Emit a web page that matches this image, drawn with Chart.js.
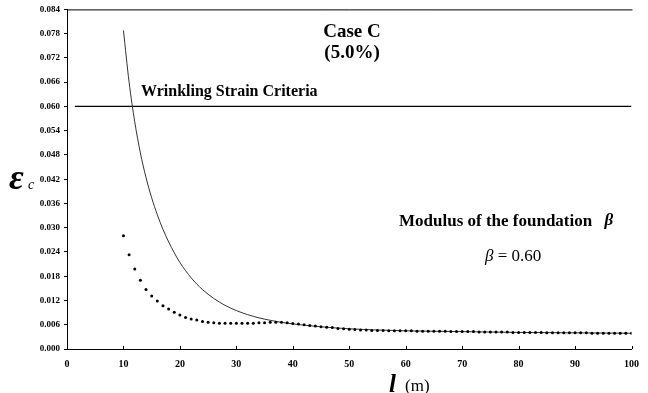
<!DOCTYPE html>
<html>
<head>
<meta charset="utf-8">
<script src="https://cdn.jsdelivr.net/npm/chart.js@4/dist/chart.umd.min.js"></script>
<style>
html,body{margin:0;padding:0;background:#fff;}
#wrap{width:648px;height:393px;position:relative;}
</style>
</head>
<body>
<div id="wrap"><canvas id="c" width="648" height="393"></canvas></div>
<script>
// ---- data ----
const dotX = [10,11,12,13,14,15,16,17,18,19,20,21,22,23,24,25,26,27,28,29,30,31,32,33,34,35,36,37,38,39,40,41,42,43,44,45,46,47,48,49,50,51,52,53,54,55,56,57,58,59,60,61,62,63,64,65,66,67,68,69,70,71,72,73,74,75,76,77,78,79,80,81,82,83,84,85,86,87,88,89,90,91,92,93,94,95,96,97,98,99,100];
const dotY = [0.0280,0.0233,0.0198,0.0170,0.0147,0.0131,0.0119,0.0107,0.0099,0.0091,0.0084,0.0078,0.0074,0.0072,0.0068,0.0066,0.0065,0.0064,0.0064,0.0064,0.0064,0.0064,0.0064,0.0064,0.0065,0.0065,0.0066,0.0066,0.0066,0.0065,0.0063,0.0062,0.0060,0.0058,0.0057,0.0055,0.0054,0.0053,0.0051,0.0050,0.0049,0.0048,0.0047,0.0047,0.0046,0.0046,0.0046,0.0045,0.0045,0.0045,0.0045,0.0045,0.0044,0.0044,0.0044,0.0044,0.0044,0.0044,0.0043,0.0043,0.0043,0.0043,0.0043,0.0042,0.0042,0.0042,0.0042,0.0042,0.0042,0.0041,0.0041,0.0041,0.0041,0.0041,0.0041,0.0040,0.0040,0.0040,0.0040,0.0040,0.0040,0.0040,0.0040,0.0039,0.0039,0.0039,0.0039,0.0039,0.0039,0.0039,0.0039];
const curveX = [10,11,12,13,14,15,16,17,18,19,20,22,24,26,28,30,32,34,36,38,40,45,50,55,60,70,80,90,100];
const curveY = [0.0788,0.0660,0.0562,0.0485,0.0424,0.0374,0.0332,0.0296,0.0265,0.0238,0.0214,0.0176,0.0147,0.0125,0.0108,0.0095,0.0085,0.0077,0.0071,0.0066,0.0062,0.0055,0.0050,0.0047,0.0045,0.0043,0.0041,0.0040,0.0039];
const criteriaX = [1.4,100];
const criteriaY = [0.060,0.060];
const xTicks = [0,10,20,30,40,50,60,70,80,90,100];
const yTicks = [0.000,0.006,0.012,0.018,0.024,0.030,0.036,0.042,0.048,0.054,0.060,0.066,0.072,0.078,0.084];

const SERIF = '"Liberation Serif","Times New Roman",serif';
const toPts = (xs, ys) => xs.map((x,i)=>({x:x,y:ys[i]}));

const deco = {
  id:'deco',
  afterDraw(chart){
    const ctx = chart.ctx, a = chart.chartArea, xs = chart.scales.x;
    ctx.save();
    ctx.strokeStyle = '#000'; ctx.lineWidth = 1;
    // top border
    ctx.beginPath(); ctx.moveTo(a.left, a.top+0.5); ctx.lineTo(a.right+1, a.top+0.5); ctx.stroke();
    // inside x ticks
    xTicks.forEach(v=>{
      const p = Math.round(xs.getPixelForValue(v))+0.5;
      ctx.beginPath(); ctx.moveTo(p, a.bottom); ctx.lineTo(p, a.bottom-3); ctx.stroke();
    });
    ctx.fillStyle = '#000';
    ctx.textBaseline = 'middle';
    // annotations
    ctx.textAlign = 'center';
    ctx.font = 'bold 19px ' + SERIF;
    ctx.fillText('Case C', 352, 32);
    ctx.fillText('(5.0%)', 352, 53);
    ctx.textAlign = 'left';
    ctx.font = 'bold 16px ' + SERIF;
    ctx.fillText('Wrinkling Strain Criteria', 141, 92);
    ctx.font = 'bold 17px ' + SERIF;
    const m = 'Modulus of the foundation ';
    ctx.fillText(m, 399, 222);
    const mw = ctx.measureText(m).width;
    ctx.font = 'italic bold 17px ' + SERIF;
    ctx.fillText('\u03B2', 399+mw+8, 221);
    ctx.font = 'italic 17px ' + SERIF;
    ctx.fillText('\u03B2', 485, 257);
    const bw = ctx.measureText('\u03B2').width;
    ctx.font = '17px ' + SERIF;
    ctx.fillText(' = 0.60', 485+bw, 257);
    // y title
    ctx.font = 'italic bold 36px ' + SERIF;
    ctx.textBaseline = 'alphabetic';
    ctx.fillText('\u03B5', 9, 189);
    ctx.font = 'italic 14px ' + SERIF;
    ctx.fillText('c', 28, 189);
    // x title
    ctx.font = 'italic bold 25px ' + SERIF;
    ctx.fillText('l', 389, 392);
    ctx.font = '17px ' + SERIF;
    ctx.fillText('(m)', 405, 391);
    ctx.restore();
  }
};

new Chart(document.getElementById('c'), {
  type:'scatter',
  data:{
    datasets:[
      {data: toPts(criteriaX, criteriaY), showLine:true, borderColor:'#000', borderWidth:1.2, pointRadius:0, order:3},
      {data: toPts(curveX, curveY), showLine:true, borderColor:'#333', borderWidth:1, pointRadius:0, cubicInterpolationMode:'monotone', order:2},
      {data: toPts(dotX, dotY), showLine:false, pointRadius:1.5, pointBackgroundColor:'#000', pointBorderWidth:0, order:1}
    ]
  },
  options:{
    responsive:false, animation:false,
    layout:{padding:{top:9,right:9,left:0,bottom:0}},
    plugins:{legend:{display:false}, tooltip:{enabled:false}},
    scales:{
      x:{type:'linear', min:0, max:100,
        afterBuildTicks(s){ s.ticks = xTicks.map(v=>({value:v})); },
        afterFit(s){ s.height = 44; },
        grid:{display:true, drawOnChartArea:false, drawTicks:false},
        border:{display:true, color:'#000', width:1},
        ticks:{padding:9, color:'#000', font:{family:SERIF, size:10, weight:'bold'}, callback:v=>String(v), maxRotation:0}
      },
      y:{type:'linear', min:0, max:0.084,
        afterBuildTicks(s){ s.ticks = yTicks.map(v=>({value:v})); },
        afterFit(s){ s.width = 67; },
        grid:{display:true, drawOnChartArea:false, drawTicks:true, tickLength:3, color:'#000'},
        border:{display:true, color:'#000', width:1},
        ticks:{padding:4, color:'#000', font:{family:SERIF, size:9, weight:'bold'}, callback:v=>v.toFixed(3)}
      }
    }
  },
  plugins:[deco]
});
</script>
</body>
</html>
